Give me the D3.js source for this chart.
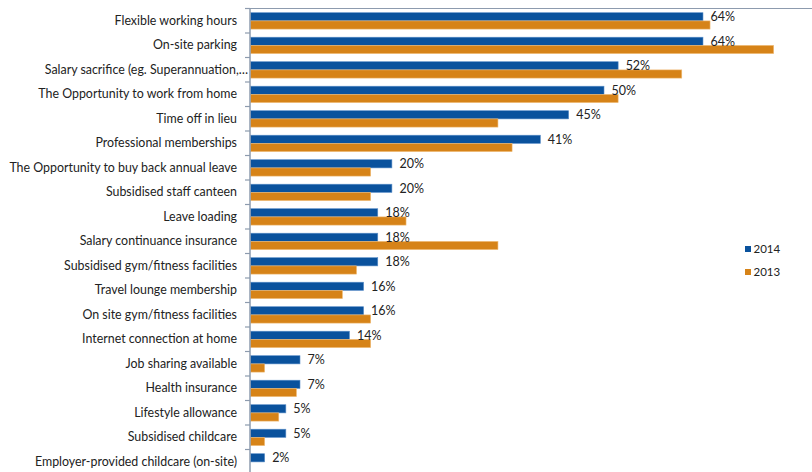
<!DOCTYPE html>
<html>
<head>
<meta charset="utf-8">
<script src="https://cdn.jsdelivr.net/npm/d3@7/dist/d3.min.js"></script>
<style>
  html, body { margin: 0; padding: 0; background: #fff; }
  svg { display: block; font-family: Lato, "Open Sans", sans-serif; }
</style>
</head>
<body>
<svg id="chart" width="812" height="472"></svg>
<script>
// Benefits offered, share of respondents (%)
const categories = [
  "Flexible working hours",
  "On-site parking",
  "Salary sacrifice (eg. Superannuation,\u2026",
  "The Opportunity to work from home",
  "Time off in lieu",
  "Professional memberships",
  "The Opportunity to buy back annual leave",
  "Subsidised staff canteen",
  "Leave loading",
  "Salary continuance insurance",
  "Subsidised gym/fitness facilities",
  "Travel lounge membership",
  "On site gym/fitness facilities",
  "Internet connection at home",
  "Job sharing available",
  "Health insurance",
  "Lifestyle allowance",
  "Subsidised childcare",
  "Employer-provided childcare (on-site)"
];
const values2014 = [64, 64, 52, 50, 45, 41, 20, 20, 18, 18, 18, 16, 16, 14, 7, 7, 5, 5, 2];
const values2013 = [65, 74, 61, 52, 35, 37, 17, 17, 22, 35, 15, 13, 17, 17, 2, 6.5, 4, 2, 0];
const seriesNames = ["2014", "2013"];
const seriesColors = ["#0A529D", "#D68318"];
const seriesEdges = ["#5B8FC8", "#F0BD7A"];

const svg = d3.select("#chart");

const axisX = 250;
const x = d3.scaleLinear().domain([0, 80]).range([axisX, axisX + 80 * 7.07]);
const y = d3.scaleBand().domain(categories).range([8.5, 8.5 + 24.5 * categories.length]).padding(0);
const ySeries = d3.scaleBand().domain(seriesNames).range([4.2, 20.6]).padding(0);

const rows = categories.map((c, i) => ({
  cat: c,
  vals: [
    { s: "2014", v: values2014[i] },
    { s: "2013", v: values2013[i] }
  ]
}));

// Bars
const groups = svg.append("g").selectAll("g")
  .data(rows).join("g")
  .attr("transform", d => `translate(0,${y(d.cat)})`);

groups.selectAll("rect")
  .data(d => d.vals.filter(v => v.v > 0))
  .join("rect")
  .attr("x", x(0) + 0.5)
  .attr("y", d => ySeries(d.s))
  .attr("width", d => x(d.v) - x(0))
  .attr("height", ySeries.bandwidth())
  .attr("fill", d => seriesColors[seriesNames.indexOf(d.s)])
  .attr("stroke", d => seriesEdges[seriesNames.indexOf(d.s)])
  .attr("stroke-width", 0.6);

// Value labels for 2014
groups.append("text")
  .attr("x", d => x(d.vals[0].v) + 8)
  .attr("y", ySeries("2014") + ySeries.bandwidth() / 2)
  .attr("dy", "0.35em")
  .attr("font-size", 12.5)
  .attr("fill", "#222")
  .text(d => d.vals[0].v + "%");

// Category axis on the left, with ticks between categories
const axisColor = "#8D9BAE";
const axisG = svg.append("g");
axisG.append("line")
  .attr("x1", axisX).attr("x2", axisX)
  .attr("y1", y.range()[0]).attr("y2", 472)
  .attr("stroke", axisColor).attr("stroke-width", 1.5);
axisG.append("line")
  .attr("x1", axisX).attr("x2", 812)
  .attr("y1", y.range()[0]).attr("y2", y.range()[0])
  .attr("stroke", axisColor).attr("stroke-width", 1.2);
axisG.selectAll("line.tick")
  .data(categories)
  .join("line")
  .attr("class", "tick")
  .attr("x1", axisX - 5).attr("x2", axisX)
  .attr("y1", d => y(d)).attr("y2", d => y(d))
  .attr("stroke", axisColor).attr("stroke-width", 1.2);

axisG.selectAll("text")
  .data(categories)
  .join("text")
  .attr("x", (d, i) => i === 2 ? axisX - 2 : 237)
  .attr("y", d => y(d) + y.bandwidth() / 2 - 0.5)
  .attr("dy", "0.35em")
  .attr("text-anchor", "end")
  .attr("font-size", 12.4)
  .attr("fill", "#222")
  .text(d => d);

// Legend
const legend = svg.append("g").attr("transform", "translate(745,249)");
const li = legend.selectAll("g").data(seriesNames).join("g")
  .attr("transform", (d, i) => `translate(0,${i * 23})`);
li.append("rect")
  .attr("x", 0).attr("y", -3).attr("width", 6).attr("height", 6)
  .attr("fill", (d, i) => seriesColors[i]);
li.append("text")
  .attr("x", 8.5).attr("y", 0).attr("dy", "0.35em")
  .attr("font-size", 11.5).attr("fill", "#222")
  .text(d => d);
</script>
</body>
</html>
